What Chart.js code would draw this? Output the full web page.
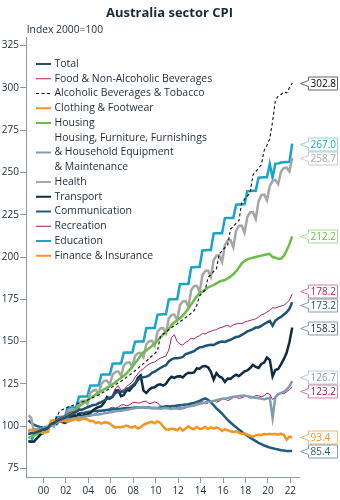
<!DOCTYPE html>
<html><head><meta charset="utf-8">
<script src="https://cdn.jsdelivr.net/npm/chart.js@4.4.1/dist/chart.umd.min.js"></script>
<style>html,body{margin:0;padding:0;background:#fff;}#wrap{width:340px;height:500px;}</style>
</head><body><div id="wrap"><canvas id="c" width="340" height="500"></canvas></div>
<script>
const seriesNames = ["Total","Food & Non-Alcoholic Beverages","Alcoholic Beverages & Tobacco","Clothing & Footwear","Housing","Housing, Furniture, Furnishings\n& Household Equipment\n& Maintenance","Health","Transport","Communication","Recreation","Education","Finance & Insurance"];
const yTicks = [75,100,125,150,175,200,225,250,275,300,325];
const xTickYears = [2000,2002,2004,2006,2008,2010,2012,2014,2016,2018,2020,2022];
// quarterly, Sep 1998 .. Mar 2022
const total = [95.5,95.8,
96.0,96.5,97.3,98.0, 98.4,99.1,101.3,101.7, 102.9,103.8,104.3,105.0, 106.0,106.9,107.7,108.4,
109.6,109.7,110.4,111.1, 111.8,112.5,112.7,113.6, 114.3,115.2,116.3,116.8, 117.6,119.6,120.5,120.3,
120.5,122.1,122.7,124.0, 125.5,127.3,129.0,129.0, 129.3,130.0,131.5,132.2, 133.4,134.4,135.4,136.1,
138.3,139.5,140.2,140.2, 140.4,140.9,142.6,143.1, 143.7,144.3,145.6,146.6, 146.8,147.4,147.8,148.1,
148.0,148.9,149.6,150.1, 149.8,150.5,151.1,151.9, 152.7,153.0,154.0,154.9, 156.0,156.7,157.4,158.3,
158.4,159.3,160.4,161.4, 162.2,159.4,162.4,163.7, 164.6,166.0,167.3,169.4, 173.2];
const food = [95.5,96.0,
96.3,96.8,97.3,97.5, 97.8,98.6,101.5,102.2, 103.5,104.8,105.6,106.3, 107.6,108.4,108.6,109.0,
110.4,110.0,110.8,111.5, 112.2,112.6,112.8,113.2, 114.0,114.8,115.8,116.2, 117.5,122.5,124.0,121.0,
121.5,123.5,124.8,126.0, 129.0,131.0,133.0,134.0, 135.5,136.8,137.5,138.0, 139.2,140.2,140.8,141.5,
145.0,152.5,154.0,150.0, 148.5,148.0,149.5,150.5, 152.0,151.5,152.8,153.5, 154.8,154.5,155.5,156.0,
156.8,157.0,158.0,158.4, 159.2,159.6,158.8,160.0, 160.4,160.8,160.6,161.5, 162.0,162.5,163.0,163.5,
164.5,165.8,166.4,167.5, 168.5,170.0,169.8,170.5, 171.0,171.5,172.8,174.5, 178.2];
const alcohol = [95.0,95.5,
96.0,96.4,96.8,97.3, 97.8,98.3,101.5,102.4, 105.0,108.5,109.8,110.3, 111.2,111.8,112.4,113.0,
113.6,114.2,114.8,115.4, 116.2,117.0,117.8,118.5, 119.5,120.4,121.3,122.2, 123.4,124.6,125.6,126.6,
127.8,129.0,130.2,131.4, 132.8,134.2,135.6,137.0, 138.5,140.0,141.5,143.0, 144.5,153.0,154.5,155.5,
157.0,158.3,159.5,160.5, 161.8,163.0,164.2,165.3, 166.8,168.3,171.5,177.0, 179.0,180.5,188.0,189.5,
191.5,193.0,202.0,203.5, 205.5,207.0,216.5,218.0, 220.0,221.5,232.0,234.0, 236.0,238.0,248.5,250.5,
252.5,254.5,263.0,266.0, 270.0,280.0,292.5,295.0, 296.0,297.5,297.0,300.0, 302.8];
const clothing = [98.0,97.6,
97.0,97.4,97.2,97.0, 96.4,96.8,103.2,103.6, 102.8,103.4,103.0,103.6, 102.6,103.2,103.8,104.2,
103.4,104.2,104.6,104.0, 103.0,103.2,101.8,102.4, 101.6,102.4,102.2,101.6, 100.2,99.2,99.6,99.4,
99.8,100.4,99.6,99.2, 100.0,98.6,99.4,100.8, 101.6,102.2,102.6,101.8, 103.0,102.0,99.8,98.2,
98.0,98.6,98.2,97.6, 99.0,97.4,98.6,99.8, 98.8,98.2,99.6,98.4, 98.6,99.6,98.2,99.4,
98.6,99.2,98.6,97.2, 98.2,97.6,97.0,96.6, 97.0,96.2,95.4,95.8, 95.0,94.2,93.8,94.6,
95.0,94.8,95.4,95.2, 95.6,95.2,95.4,95.0, 95.6,94.8,92.0,93.8, 93.4];
const housing = [93.0,93.8,
94.6,95.4,96.3,97.2, 98.0,98.9,101.0,102.0, 102.9,103.8,104.7,105.6, 106.6,107.7,108.8,110.0,
111.5,112.8,114.2,115.4, 116.5,117.6,118.8,119.8, 120.8,121.8,122.8,123.8, 124.8,126.0,127.4,128.6,
129.8,131.4,133.2,135.2, 137.2,139.4,141.8,143.8, 144.8,146.0,147.4,148.8, 150.6,152.4,154.2,155.8,
157.6,159.8,161.4,162.6, 163.8,165.4,167.4,169.6, 172.0,174.4,176.8,178.4, 179.6,180.8,182.0,182.8,
183.4,184.4,185.4,186.0, 186.4,187.4,188.4,189.8, 191.6,193.8,196.2,197.6, 198.6,199.2,199.6,200.0,
200.4,200.8,201.2,201.6, 201.8,200.0,199.6,199.0, 199.0,200.6,203.8,207.6, 212.2];
const furnishings = [97.5,97.8,
98.0,98.2,98.5,98.6, 98.8,99.2,100.8,101.2, 102.0,102.6,103.0,103.4, 103.8,104.2,104.6,104.8,
105.2,105.4,105.8,106.0, 106.2,106.6,106.8,107.0, 107.2,107.6,107.8,108.2, 108.4,108.8,109.0,109.2,
109.4,109.8,110.0,110.4, 110.6,111.0,111.2,111.4, 111.2,110.8,110.6,110.8, 110.6,110.4,110.6,110.8,
110.4,110.2,110.6,110.4, 110.2,110.8,111.4,111.6, 112.0,112.4,112.8,113.2, 113.6,114.0,114.4,114.6,
115.0,115.4,115.8,116.2, 116.4,116.6,117.0,117.4, 117.6,117.8,118.0,118.2, 117.8,117.4,117.0,116.8,
116.6,116.2,116.0,116.4, 116.8,105.0,117.4,119.0, 119.6,120.4,121.6,123.6, 126.7];
const health = [106.5,105.0,
96.0,96.8,97.0,96.0, 99.0,100.2,101.0,99.8, 103.6,104.8,105.0,103.2, 108.2,109.6,110.0,108.0,
113.6,115.0,115.2,113.0, 119.6,121.0,121.4,119.0, 125.2,126.8,127.0,124.6, 130.6,132.0,132.4,129.8,
136.0,137.6,137.8,135.2, 141.6,143.2,143.4,140.8, 148.4,150.2,150.6,147.6, 155.8,157.8,158.0,155.0,
163.6,165.8,166.0,162.8, 171.6,173.8,174.0,170.6, 180.4,182.8,183.0,179.4, 189.2,191.8,192.0,188.2,
198.2,200.8,201.0,197.0, 207.0,209.8,210.0,205.8, 215.6,218.4,218.6,214.4, 223.6,226.4,226.6,222.4,
233.0,236.5,237.0,233.5, 242.0,245.0,245.5,243.0, 250.5,252.5,252.8,250.5, 258.7];
const transport = [91.2,90.8,
91.0,92.8,94.6,96.2, 98.0,99.4,101.0,101.6, 101.2,103.4,102.4,102.0, 102.8,104.6,105.6,106.2,
107.2,105.8,106.8,107.0, 107.8,109.4,110.6,111.4, 111.8,114.0,117.2,116.2, 117.4,121.0,121.2,117.8,
118.4,121.4,121.0,123.2, 124.6,128.6,130.0,121.0, 119.6,121.6,122.8,123.0, 124.4,124.8,124.0,125.0,
127.6,129.2,128.6,129.4, 129.6,128.8,130.6,131.6, 131.4,131.8,134.2,134.0, 135.4,135.6,134.8,132.2,
127.6,131.4,129.4,128.6, 126.2,128.2,128.0,129.4, 130.4,129.6,131.0,132.4, 133.0,134.4,136.2,135.0,
134.4,136.8,137.6,140.6, 139.2,129.4,133.2,133.8, 136.6,139.6,143.4,149.6, 158.3];
const communication = [103.5,102.0,
100.8,100.2,99.6,99.2, 99.0,99.2,100.6,101.2, 102.2,103.4,104.0,104.6, 105.4,105.8,106.4,107.0,
107.4,107.8,108.0,108.4, 108.6,108.8,109.0,109.2, 109.2,109.4,109.6,109.8, 110.0,110.2,110.2,110.4,
110.6,110.6,110.8,110.8, 111.0,111.0,111.2,111.2, 111.0,111.0,110.8,110.8, 110.8,111.0,111.2,111.4,
111.6,111.8,112.0,112.2, 112.4,112.6,112.8,113.0, 113.4,113.8,114.4,115.0, 115.8,116.4,115.6,114.2,
112.4,110.6,109.0,107.4, 105.6,103.8,102.2,100.8, 99.4,98.0,96.8,95.6, 94.4,93.2,92.2,91.2,
90.2,89.4,88.6,88.0, 87.4,87.0,86.6,86.2, 85.8,85.6,85.4,85.4, 85.4];
const recreation = [97.0,97.8,
98.0,97.6,98.2,98.8, 99.0,98.8,100.8,101.4, 102.8,102.2,103.0,104.2, 105.0,104.4,104.8,105.6,
106.2,105.6,106.0,106.8, 107.5,106.8,107.4,108.6, 109.4,108.8,109.6,110.6, 111.2,110.6,111.4,112.4,
112.8,112.0,112.6,113.8, 114.2,113.6,114.0,114.6, 114.8,113.4,113.6,114.4, 113.8,112.0,111.8,112.4,
112.0,110.6,110.4,111.2, 111.4,110.2,110.8,112.2, 112.6,111.8,113.0,114.0, 114.6,113.2,113.8,115.0,
115.2,114.2,114.8,116.2, 116.0,115.2,115.8,117.0, 117.2,116.4,116.8,117.6, 117.8,116.6,117.0,118.2,
118.0,117.4,118.0,119.6, 118.8,115.8,117.0,118.4, 119.8,119.2,120.4,121.6, 123.2];
const education = [91.0,91.0,
95.4,95.5,95.6,95.6, 99.6,99.7,100.3,100.4, 105.4,105.5,105.6,105.6, 110.9,111.0,111.1,111.1,
117.4,117.5,117.6,117.6, 123.9,124.0,124.1,124.1, 130.4,130.5,130.6,130.6, 136.9,137.0,137.1,137.1,
143.4,143.5,143.6,143.6, 149.9,150.0,150.1,150.1, 157.9,158.0,158.1,158.1, 165.9,166.0,166.1,166.1,
174.9,175.0,175.1,175.1, 183.9,184.0,184.1,184.1, 193.9,194.0,194.1,194.1, 203.9,204.0,204.1,204.1,
213.9,214.0,214.1,214.1, 222.9,223.0,223.1,223.1, 230.9,231.0,231.1,231.1, 238.9,239.0,239.1,239.1,
246.9,247.0,247.1,247.1, 255.0,247.0,255.2,255.3, 255.8,256.0,256.1,256.2, 267.0];
const finance = [];

// quarter dates (month start of quarter end month), Sep 1998 .. Mar 2022
const quarterDates = [];
for (let y = 1998; y <= 2022; y++) {
  for (const m of [3, 6, 9, 12]) {
    if (y === 1998 && m < 9) continue;
    if (y === 2022 && m > 3) continue;
    quarterDates.push(y + (m - 1) / 12);
  }
}

const seriesData = [total, food, alcohol, clothing, housing, furnishings, health, transport, communication, recreation, education, finance];
const lineColors = ['#1f5274','#b81c5c','#111111','#f7941d','#6cbd45','#7f9db3','#a5a5a5','#0f2b42','#1e5b7c','#a5194f','#1aa3c9','#f7941d'];
const calloutBorders = ['#7f9db0','#d97aa0','#666666','#f9b865','#a9d98f','#b8cbd8','#c8c8c8','#8a99a6','#7f9db0','#d97aa0','#8fd3e6','#f9b865'];
const lineWidths = [2.5,1,1.1,2.5,2.5,2.5,2.5,2.5,2.5,1,2.5,2.5];
const legendRows = [0,1,2,3,4,6,8,9,10,11,12,13];

const FONT = 'Open Sans';
const mctx = document.createElement('canvas').getContext('2d');
function fitSize(text, weight, target) {
  mctx.font = weight + ' 20px "' + FONT + '"';
  return 20 * target / mctx.measureText(text).width;
}
const titleSize = fitSize('Australia sector CPI', 'bold', 127);
const subSize = fitSize('Index 2000=100', 'normal', 76.5);
const legSize = fitSize('Food & Non-Alcoholic Beverages', 'normal', 158);
const txtColor = '#1d2c3a';
const axisColor = '#8a99a6';

const datasets = seriesData.map((arr, i) => ({
  label: seriesNames[i],
  data: arr.map((v, j) => ({ x: quarterDates[j], y: v })),
  borderColor: lineColors[i],
  borderWidth: lineWidths[i],
  borderDash: i === 2 ? [3, 2.5] : [],
  pointRadius: 0,
  fill: false,
  tension: 0
}));

const decor = {
  id: 'decor',
  afterDraw(chart) {
    const ctx = chart.ctx;
    ctx.save();
    // title
    ctx.fillStyle = '#182a3a';
    ctx.font = 'bold ' + titleSize + 'px "' + FONT + '"';
    ctx.textAlign = 'center'; ctx.textBaseline = 'alphabetic';
    ctx.fillText('Australia sector CPI', 169.5, 16.5);
    ctx.fillStyle = txtColor;
    ctx.font = subSize + 'px "' + FONT + '"';
    ctx.textAlign = 'left';
    ctx.fillText('Index 2000=100', 26.7, 32.5);
    // legend
    ctx.font = legSize + 'px "' + FONT + '"';
    ctx.textBaseline = 'middle';
    const rowH = 14.75, y0 = 64;
    seriesNames.forEach((name, i) => {
      const lines = name.split('\n');
      const r = legendRows[i];
      const startRow = r - (lines.length > 1 ? 1 : 0);
      const my = y0 + r * rowH;
      ctx.beginPath();
      ctx.strokeStyle = lineColors[i];
      ctx.lineWidth = lineWidths[i] > 1.5 ? 2 : 1;
      ctx.setLineDash(i === 2 ? [3, 2.5] : []);
      ctx.moveTo(36, my); ctx.lineTo(51, my);
      ctx.stroke();
      ctx.setLineDash([]);
      ctx.fillStyle = txtColor;
      lines.forEach((ln, k) => ctx.fillText(ln, 54.5, y0 + (startRow + k) * rowH));
    });
    // callouts
    const ys = chart.scales.y;
    const items = [];
    seriesData.forEach((arr, i) => {
      if (!arr.length) return;
      const v = arr[arr.length - 1];
      items.push({ i, v, y: ys.getPixelForValue(v) });
    });
    items.sort((a, b) => a.y - b.y);
    const gap = 14;
    for (let it = 0; it < 60; it++) {
      for (let k = 1; k < items.length; k++) {
        const d = items[k].y - items[k - 1].y;
        if (d < gap) { const s = (gap - d) / 2; items[k].y += s; items[k - 1].y -= s; }
      }
    }
    ctx.font = '10px "' + FONT + '"';
    ctx.textAlign = 'left'; ctx.textBaseline = 'middle';
    items.forEach(o => {
      const cy = Math.round(o.y) + 0.5;
      const L = 308.5, R = 337.5, h = 13, top = cy - h / 2, bot = cy + h / 2;
      ctx.beginPath();
      ctx.moveTo(L, top); ctx.lineTo(R, top); ctx.lineTo(R, bot); ctx.lineTo(L, bot);
      ctx.lineTo(L, cy + 3); ctx.lineTo(300.5, cy); ctx.lineTo(L, cy - 3); ctx.closePath();
      ctx.fillStyle = '#ffffff'; ctx.fill();
      ctx.strokeStyle = calloutBorders[o.i]; ctx.lineWidth = 1; ctx.stroke();
      ctx.fillStyle = o.i === 2 ? '#000000' : lineColors[o.i];
      ctx.fillText(o.v.toFixed(1), 310.5, cy + 0.5);
    });
    ctx.restore();
  }
};

new Chart(document.getElementById('c'), {
  type: 'line',
  data: { datasets },
  options: {
    responsive: false, animation: false, devicePixelRatio: 1,
    layout: { padding: { top: 37, right: 41, left: 0, bottom: 0 } },
    plugins: { legend: { display: false }, tooltip: { enabled: false }, title: { display: false } },
    scales: {
      x: {
        type: 'linear', min: 1998.45, max: 2022.77,
        afterBuildTicks: s => { s.ticks = xTickYears.map(v => ({ value: v })); },
        afterFit: s => { s.height = 23; },
        ticks: { callback: v => String(v % 100).padStart(2, '0'), font: { family: FONT, size: 10 }, color: txtColor, padding: 2, maxRotation: 0, autoSkip: false },
        grid: { drawOnChartArea: false, drawTicks: true, tickLength: 6, color: axisColor },
        border: { display: true, color: axisColor, width: 1 }
      },
      y: {
        type: 'linear', min: 70, max: 330,
        afterBuildTicks: s => { s.ticks = yTicks.map(v => ({ value: v })); },
        afterFit: s => { s.width = 26; },
        ticks: { font: { family: FONT, size: 10 }, color: txtColor, padding: 1 },
        grid: { drawOnChartArea: false, drawTicks: true, tickLength: 6, color: axisColor },
        border: { display: true, color: axisColor, width: 1 }
      }
    }
  },
  plugins: [decor]
});
</script>
</body></html>
